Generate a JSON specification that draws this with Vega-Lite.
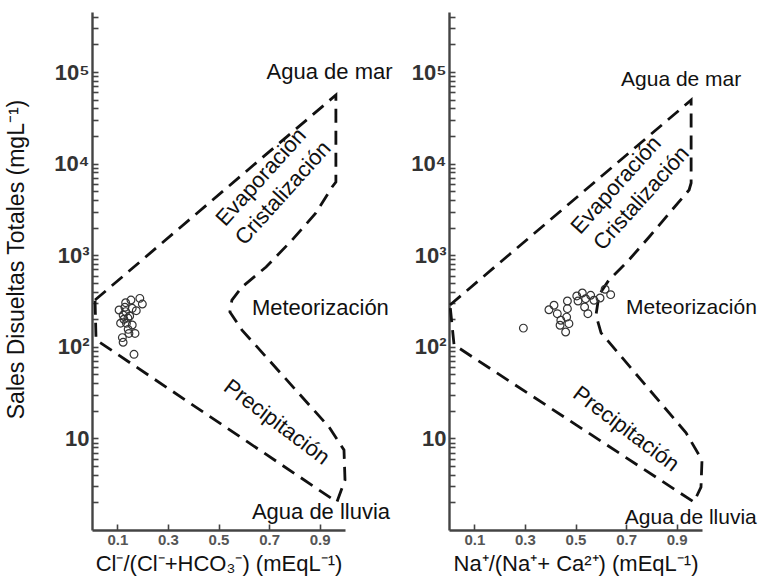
{
  "$schema": "https://vega.github.io/schema/vega-lite/v6.json",
  "padding": {"left": 5, "top": 5, "right": 5, "bottom": 5},
  "bounds": "flush",
  "spacing": 104,
  "config": {
    "view": {"stroke": null},
    "font": "Liberation Sans",
    "axis": {
      "grid": false,
      "domainColor": "#444444",
      "domainWidth": 2.4,
      "tickColor": "#444444",
      "tickWidth": 1.6,
      "tickSize": -6,
      "labelFont": "Liberation Sans",
      "titleFont": "Liberation Sans",
      "titleFontWeight": "normal",
      "titleColor": "#111111"
    }
  },
  "datasets": {
    "cl_boundary": [
      {"o": 1, "x": 0.012, "tds": 324},
      {"o": 2, "x": 0.964, "tds": 56100},
      {"o": 3, "x": 0.964, "tds": 6300},
      {"o": 4, "x": 0.949, "tds": 5560},
      {"o": 5, "x": 0.885, "tds": 2890},
      {"o": 6, "x": 0.791, "tds": 1466},
      {"o": 7, "x": 0.688, "tds": 743},
      {"o": 8, "x": 0.593, "tds": 450},
      {"o": 9, "x": 0.553, "tds": 324},
      {"o": 10, "x": 0.545, "tds": 240},
      {"o": 11, "x": 0.593, "tds": 152},
      {"o": 12, "x": 0.937, "tds": 13.3},
      {"o": 13, "x": 0.996, "tds": 7.47},
      {"o": 14, "x": 1.0, "tds": 3.51},
      {"o": 15, "x": 0.968, "tds": 2.02},
      {"o": 16, "x": 0.016, "tds": 119},
      {"o": 17, "x": 0.012, "tds": 324}
    ],
    "na_boundary": [
      {"o": 1, "x": 0.004, "tds": 286},
      {"o": 2, "x": 0.957, "tds": 49400},
      {"o": 3, "x": 0.957, "tds": 6140},
      {"o": 4, "x": 0.949, "tds": 5150},
      {"o": 5, "x": 0.881, "tds": 3110},
      {"o": 6, "x": 0.791, "tds": 1580},
      {"o": 7, "x": 0.704, "tds": 843},
      {"o": 8, "x": 0.632, "tds": 536},
      {"o": 9, "x": 0.593, "tds": 368},
      {"o": 10, "x": 0.581, "tds": 222},
      {"o": 11, "x": 0.601, "tds": 142},
      {"o": 12, "x": 0.937, "tds": 11.5},
      {"o": 13, "x": 1.0, "tds": 5.81},
      {"o": 14, "x": 0.996, "tds": 2.94},
      {"o": 15, "x": 0.968, "tds": 2.02},
      {"o": 16, "x": 0.02, "tds": 105},
      {"o": 17, "x": 0.004, "tds": 286}
    ],
    "cl_points": [
      {"x": 0.189, "tds": 338}, {"x": 0.199, "tds": 293}, {"x": 0.133, "tds": 303},
      {"x": 0.130, "tds": 270}, {"x": 0.159, "tds": 263}, {"x": 0.175, "tds": 248},
      {"x": 0.133, "tds": 242}, {"x": 0.123, "tds": 222}, {"x": 0.149, "tds": 217},
      {"x": 0.126, "tds": 200}, {"x": 0.113, "tds": 181}, {"x": 0.136, "tds": 181},
      {"x": 0.159, "tds": 173}, {"x": 0.143, "tds": 155}, {"x": 0.170, "tds": 140},
      {"x": 0.146, "tds": 140}, {"x": 0.120, "tds": 126}, {"x": 0.123, "tds": 112},
      {"x": 0.166, "tds": 82.8}, {"x": 0.107, "tds": 252}, {"x": 0.154, "tds": 324},
      {"x": 0.142, "tds": 206}
    ],
    "na_points": [
      {"x": 0.294, "tds": 160}, {"x": 0.395, "tds": 254}, {"x": 0.415, "tds": 284},
      {"x": 0.428, "tds": 230}, {"x": 0.468, "tds": 316}, {"x": 0.468, "tds": 261},
      {"x": 0.465, "tds": 211}, {"x": 0.474, "tds": 179}, {"x": 0.442, "tds": 195},
      {"x": 0.439, "tds": 172}, {"x": 0.461, "tds": 145}, {"x": 0.505, "tds": 359},
      {"x": 0.527, "tds": 387}, {"x": 0.540, "tds": 335}, {"x": 0.560, "tds": 365},
      {"x": 0.510, "tds": 316}, {"x": 0.536, "tds": 272}, {"x": 0.549, "tds": 230},
      {"x": 0.573, "tds": 322}, {"x": 0.597, "tds": 341}, {"x": 0.617, "tds": 425},
      {"x": 0.639, "tds": 371}
    ]
  },
  "hconcat": [
    {
      "width": 253,
      "height": 518,
      "encoding": {
        "x": {
          "field": "x", "type": "quantitative",
          "scale": {"domain": [0, 1], "nice": false},
          "axis": {
            "values": [0.1, 0.3, 0.5, 0.7, 0.9], "format": ".1f",
            "labelFontSize": 15, "labelFontWeight": "bold", "labelColor": "#555555",
            "labelPadding": 8,
            "title": "Cl⁻/(Cl⁻+HCO₃⁻) (mEqL⁻¹)", "titleFontSize": 22, "titlePadding": 6
          }
        },
        "y": {
          "field": "tds", "type": "quantitative",
          "scale": {"type": "log", "domain": [1, 452000], "nice": false},
          "axis": {
            "values": [2,3,4,5,6,7,8,9,10,20,30,40,50,60,70,80,90,100,200,300,400,500,600,700,800,900,1000,2000,3000,4000,5000,6000,7000,8000,9000,10000,20000,30000,40000,50000,60000,70000,80000,90000,100000,200000,300000,400000],
            "labelExpr": "datum.value == 10 ? '10' : datum.value == 100 ? '10²' : datum.value == 1000 ? '10³' : datum.value == 10000 ? '10⁴' : datum.value == 100000 ? '10⁵' : ''",
            "labelOverlap": false,
            "labelFontSize": 22, "labelFontWeight": "bold", "labelColor": "#333333",
            "labelPadding": 9,
            "title": "Sales Disueltas Totales (mgL⁻¹)", "titleFontSize": 23,
            "titleX": -64, "titleY": 247
          }
        }
      },
      "layer": [
        {
          "data": {"name": "cl_boundary"},
          "mark": {"type": "line", "color": "#111111", "strokeWidth": 2.8, "strokeDash": [14, 8]},
          "encoding": {"order": {"field": "o", "type": "quantitative"}}
        },
        {
          "data": {"name": "cl_points"},
          "mark": {"type": "point", "filled": false, "color": "#333333", "size": 60, "strokeWidth": 1.2, "opacity": 1}
        },
        {
          "data": {"values": [
            {"label": "Agua de mar", "x": 0.69, "tds": 100000},
            {"label": "Meteorización", "x": 0.632, "tds": 265},
            {"label": "Agua de lluvia", "x": 0.632, "tds": 1.57}
          ]},
          "mark": {"type": "text", "align": "left", "baseline": "middle", "fontSize": 22, "color": "#111111"},
          "encoding": {"text": {"field": "label"}}
        },
        {
          "data": {"values": [
            {"label": "Evaporación", "x": 0.668, "tds": 7140},
            {"label": "Cristalización", "x": 0.755, "tds": 4775}
          ]},
          "mark": {"type": "text", "align": "center", "baseline": "middle", "fontSize": 22, "angle": 312, "color": "#111111"},
          "encoding": {"text": {"field": "label"}}
        },
        {
          "data": {"values": [
            {"label": "Precipitación", "x": 0.73, "tds": 15.1}
          ]},
          "mark": {"type": "text", "align": "center", "baseline": "middle", "fontSize": 22, "angle": 37, "color": "#111111"},
          "encoding": {"text": {"field": "label"}}
        }
      ]
    },
    {
      "width": 253,
      "height": 518,
      "encoding": {
        "x": {
          "field": "x", "type": "quantitative",
          "scale": {"domain": [0, 1], "nice": false},
          "axis": {
            "values": [0.1, 0.3, 0.5, 0.7, 0.9], "format": ".1f",
            "labelFontSize": 15, "labelFontWeight": "bold", "labelColor": "#555555",
            "labelPadding": 8,
            "title": "Na⁺/(Na⁺+ Ca²⁺) (mEqL⁻¹)", "titleFontSize": 22, "titlePadding": 6
          }
        },
        "y": {
          "field": "tds", "type": "quantitative",
          "scale": {"type": "log", "domain": [1, 452000], "nice": false},
          "axis": {
            "values": [2,3,4,5,6,7,8,9,10,20,30,40,50,60,70,80,90,100,200,300,400,500,600,700,800,900,1000,2000,3000,4000,5000,6000,7000,8000,9000,10000,20000,30000,40000,50000,60000,70000,80000,90000,100000,200000,300000,400000],
            "labelExpr": "datum.value == 10 ? '10' : datum.value == 100 ? '10²' : datum.value == 1000 ? '10³' : datum.value == 10000 ? '10⁴' : datum.value == 100000 ? '10⁵' : ''",
            "labelOverlap": false,
            "labelFontSize": 22, "labelFontWeight": "bold", "labelColor": "#333333",
            "labelPadding": 9,
            "title": null
          }
        }
      },
      "layer": [
        {
          "data": {"name": "na_boundary"},
          "mark": {"type": "line", "color": "#111111", "strokeWidth": 2.8, "strokeDash": [14, 8]},
          "encoding": {"order": {"field": "o", "type": "quantitative"}}
        },
        {
          "data": {"name": "na_points"},
          "mark": {"type": "point", "filled": false, "color": "#333333", "size": 60, "strokeWidth": 1.2, "opacity": 1}
        },
        {
          "data": {"values": [
            {"label": "Agua de mar", "x": 0.68, "tds": 81000},
            {"label": "Meteorización", "x": 0.70, "tds": 265},
            {"label": "Agua de lluvia", "x": 0.695, "tds": 1.35}
          ]},
          "mark": {"type": "text", "align": "left", "baseline": "middle", "fontSize": 21, "color": "#111111"},
          "encoding": {"text": {"field": "label"}}
        },
        {
          "data": {"values": [
            {"label": "Evaporación", "x": 0.66, "tds": 5840},
            {"label": "Cristalización", "x": 0.76, "tds": 4200}
          ]},
          "mark": {"type": "text", "align": "center", "baseline": "middle", "fontSize": 22, "angle": 312, "color": "#111111"},
          "encoding": {"text": {"field": "label"}}
        },
        {
          "data": {"values": [
            {"label": "Precipitación", "x": 0.70, "tds": 12.7}
          ]},
          "mark": {"type": "text", "align": "center", "baseline": "middle", "fontSize": 22, "angle": 37, "color": "#111111"},
          "encoding": {"text": {"field": "label"}}
        }
      ]
    }
  ]
}
